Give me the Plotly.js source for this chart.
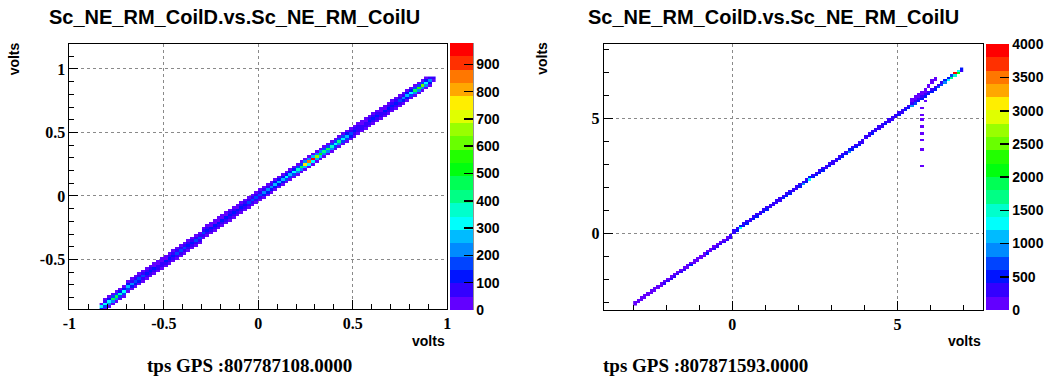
<!DOCTYPE html>
<html><head><meta charset="utf-8">
<script src="https://cdn.plot.ly/plotly-3.0.1.min.js"></script>
<style>html,body{margin:0;padding:0;background:#fff;}#chart{width:1053px;height:381px;}</style>
</head><body><div id="chart"></div>
<script>
// ---------------- DATA ----------------
const titleText = 'Sc_NE_RM_CoilD.vs.Sc_NE_RM_CoilU';
const axisTitle = 'volts';
const leftFooter = 'tps GPS :807787108.0000';
const rightFooter = 'tps GPS :807871593.0000';

// Left histogram (bin width 0.02 in x and y): filled columns
const leftBinW = 0.02, leftBinH = 0.02;
const leftColX = [-0.83,-0.81,-0.79,-0.77,-0.75,-0.73,-0.71,-0.69,-0.67,-0.65,-0.63,-0.61,-0.59,-0.57,-0.55,-0.53,-0.51,-0.49,-0.47,-0.45,-0.43,-0.41,-0.39,-0.37,-0.35,-0.33,-0.31,-0.29,-0.27,-0.25,-0.23,-0.21,-0.19,-0.17,-0.15,-0.13,-0.11,-0.09,-0.07,-0.05,-0.03,-0.01,0.01,0.03,0.05,0.07,0.09,0.11,0.13,0.15,0.17,0.19,0.21,0.23,0.25,0.27,0.29,0.31,0.33,0.35,0.37,0.39,0.41,0.43,0.45,0.47,0.49,0.51,0.53,0.55,0.57,0.59,0.61,0.63,0.65,0.67,0.69,0.71,0.73,0.75,0.77,0.79,0.81,0.83,0.85,0.87,0.89,0.91,0.93];
const leftColYLow = [-0.91,-0.89,-0.87,-0.85,-0.83,-0.81,-0.79,-0.75,-0.73,-0.71,-0.69,-0.67,-0.65,-0.63,-0.61,-0.59,-0.57,-0.55,-0.53,-0.51,-0.49,-0.47,-0.45,-0.43,-0.41,-0.39,-0.37,-0.33,-0.31,-0.29,-0.27,-0.25,-0.23,-0.21,-0.19,-0.17,-0.15,-0.13,-0.11,-0.09,-0.07,-0.05,-0.03,-0.01,0.01,0.03,0.05,0.07,0.09,0.11,0.13,0.15,0.17,0.19,0.21,0.23,0.25,0.27,0.29,0.31,0.33,0.35,0.37,0.39,0.41,0.43,0.45,0.47,0.49,0.51,0.53,0.55,0.57,0.59,0.61,0.63,0.65,0.67,0.69,0.71,0.73,0.75,0.77,0.79,0.81,0.83,0.85,0.87,0.89];
const leftColCounts = [
 [0,120,320,40,0],[20,180,330,80,10],[25,200,340,120,20],[30,220,450,150,20],[30,230,460,160,25],
 [25,190,370,130,20],[25,170,310,110,20],[20,150,280,100,15],[20,130,230,90,15],[15,110,190,80,10],
 [15,100,170,70,10],[15,90,160,60,10],[10,80,140,55,10],[10,70,120,50,8],[10,60,100,45,8],
 [8,55,90,40,5],[8,60,95,40,5],[10,60,110,45,6],[10,70,120,50,8],[10,70,130,50,8],
 [12,80,150,55,8],[12,90,170,60,10],[12,80,160,55,10],[10,75,140,50,8],[10,70,130,50,8],
 [10,80,150,55,8],[12,90,170,60,10],[10,80,150,55,8],[10,70,120,50,8],[8,60,110,45,6],
 [8,60,100,40,6],[8,55,100,40,6],[8,60,110,45,6],[10,65,120,45,8],[10,70,130,50,8],
 [10,70,120,50,8],[10,65,110,45,8],[10,70,120,50,8],[10,75,140,55,8],[12,80,150,60,10],
 [12,80,160,60,10],[12,85,170,65,10],[12,90,180,70,10],[15,100,200,80,12],[15,110,220,90,12],
 [15,120,230,90,12],[15,120,250,100,15],[15,130,260,100,15],[20,140,280,110,15],[20,150,300,120,15],
 [20,160,250,110,15],[20,170,320,130,20],[25,200,360,150,20],[25,230,460,170,25],[30,280,750,220,30],
 [30,300,850,240,30],[30,320,960,260,30],[30,280,650,220,30],[25,250,500,200,25],[25,220,420,180,25],
 [25,230,460,190,25],[25,200,360,160,20],[20,180,320,150,20],[25,200,400,170,20],[20,180,330,150,20],
 [20,150,250,120,15],[15,110,180,90,12],[12,80,130,70,10],[10,60,90,50,8],[10,55,80,45,8],
 [10,60,90,45,8],[10,60,100,50,8],[10,65,110,50,8],[10,60,100,50,8],[10,55,90,45,8],
 [10,60,100,45,8],[10,65,110,50,8],[10,70,120,55,8],[10,80,140,60,10],[12,90,160,70,10],
 [15,110,200,80,12],[15,130,260,100,15],[20,160,320,120,15],[20,200,460,150,20],[25,230,560,170,20],
 [25,240,620,180,20],[20,200,330,130,15],[15,130,200,80,0],[0,40,60,0,0]
];

// Right histogram (bin width 0.1 in x and y): filled columns along the diagonal
const rightBinW = 0.1, rightBinH = 0.1;
const rightColX = [-2.95,-2.85,-2.75,-2.65,-2.55,-2.45,-2.35,-2.25,-2.15,-2.05,-1.95,-1.85,-1.75,-1.65,-1.55,-1.45,-1.35,-1.25,-1.15,-1.05,-0.95,-0.85,-0.75,-0.65,-0.55,-0.45,-0.35,-0.25,-0.15,-0.05,
 0.05,0.15,0.25,0.35,0.45,0.55,0.65,0.75,0.85,0.95,1.05,1.15,1.25,1.35,1.45,1.55,1.65,1.75,1.85,1.95,2.05,2.15,2.25,2.35,2.45,2.55,2.65,2.75,2.85,2.95,3.05,3.15,3.25,3.35,3.45,3.55,3.65,3.75,3.85,3.95,
 4.05,4.15,4.25,4.35,4.45,4.55,4.65,4.75,4.85,4.95,5.05,5.15,5.25,5.35,5.45,5.55,5.65,5.75,5.85,5.95,6.05,6.15,6.25,6.35,6.45,6.55,6.65,6.75,6.85,6.95];
const rightColYLow = [-3.05,-2.95,-2.85,-2.75,-2.65,-2.55,-2.45,-2.35,-2.25,-2.15,-2.05,-1.95,-1.85,-1.75,-1.65,-1.55,-1.45,-1.35,-1.25,-1.15,-1.05,-0.95,-0.85,-0.75,-0.65,-0.55,-0.45,-0.35,-0.25,-0.15,
 0.05,0.15,0.25,0.35,0.45,0.55,0.65,0.75,0.85,0.95,1.05,1.15,1.25,1.35,1.45,1.55,1.65,1.75,1.85,1.95,2.05,2.15,2.25,2.35,2.45,2.55,2.65,2.75,2.85,2.95,3.05,3.15,3.25,3.35,3.45,3.55,3.65,3.75,3.85,3.95,
 4.15,4.25,4.35,4.45,4.55,4.65,4.75,4.85,4.95,5.05,5.15,5.25,5.35,5.45,5.55,5.65,5.75,5.85,5.95,6.05,6.15,6.25,6.35,6.45,6.55,6.65,6.75,6.85,6.95,7.05];
const rightColCounts = [
 [60,20],[90,40],[120,60],[150,80],[140,90],[160,100],[180,120],[170,110],[190,130],[220,140],
 [250,150],[230,160],[280,170],[260,150],[240,140],[210,130],[190,120],[450,110],[160,100],[180,120],
 [170,110],[190,130],[450,140],[180,130],[210,150],[230,160],[250,180],[260,190],[300,200],[350,250],
 [400,300],[450,350],[1250,500],[500,350],[520,380],[400,300],[550,350],[420,300],[380,260],[560,360],
 [420,300],[380,280],[350,250],[330,240],[400,280],[580,380],[420,300],[520,340],[400,280],[380,270],
 [450,300],[850,400],[500,330],[1250,450],[520,340],[420,300],[560,350],[420,290],[380,270],[540,340],
 [400,280],[360,260],[560,350],[420,300],[450,310],[950,420],[480,320],[420,300],[560,350],[400,290],
 [380,270],[360,260],[540,330],[400,280],[370,260],[350,250],[520,320],[380,270],[350,250],[330,240],
 [420,280],[400,270],[450,300],[600,350],[900,320],[650,380],[550,340],[480,300],[450,290],[420,280],
 [500,320],[560,340],[620,360],[700,400],[850,450],[1300,600],[1650,800],[1500,3900],[2100,1300],[300,500]
];
// Right histogram: isolated cells off the diagonal (loop and vertical trail)
const rightExtraX = [5.45,5.45,5.55,5.55,5.65,5.65,5.75,5.75,5.85,5.85,5.95,5.95,6.05,6.05,6.15,6.15,
 5.75,5.75,5.75,5.75,5.75,5.75,5.75,5.75,5.85];
const rightExtraY = [5.75,5.85,5.85,5.95,5.95,6.05,6.05,6.15,6.15,6.25,6.35,6.45,6.55,6.65,6.65,6.75,
 5.45,5.15,4.95,4.65,4.35,4.05,3.65,2.95,5.75];
const rightExtraZ = [80,60,90,70,60,80,50,60,40,60,50,40,40,50,40,50,
 30,20,15,15,10,10,10,10,20];

// Axis ticks
const leftXTicks = [-1,-0.5,0,0.5,1], leftXTickText = ['-1','-0.5','0','0.5','1'];
const leftYTicks = [-0.5,0,0.5,1], leftYTickText = ['-0.5','0','0.5','1'];
const rightXTicks = [0,5], rightXTickText = ['0','5'];
const rightYTicks = [0,5], rightYTickText = ['0','5'];
const leftZMax = 978, rightZMax = 4005;

// ---------------- BUILD ----------------
function buildHist(colX, colYLow, colCounts, dx, dy, exX, exY, exZ) {
  const cells = [];
  colX.forEach((x, i) => colCounts[i].forEach((c, k) => { if (c > 0) cells.push([x, colYLow[i] + k * dy, c]); }));
  (exX || []).forEach((x, i) => cells.push([x, exY[i], exZ[i]]));
  const xMin = Math.min(...cells.map(c => c[0])), xMax = Math.max(...cells.map(c => c[0]));
  const yMin = Math.min(...cells.map(c => c[1])), yMax = Math.max(...cells.map(c => c[1]));
  const nx = Math.round((xMax - xMin) / dx) + 1, ny = Math.round((yMax - yMin) / dy) + 1;
  const xs = Array.from({length: nx}, (_, i) => +(xMin + i * dx).toFixed(4));
  const ys = Array.from({length: ny}, (_, j) => +(yMin + j * dy).toFixed(4));
  const z = Array.from({length: ny}, () => Array(nx).fill(null));
  cells.forEach(([x, y, c]) => {
    const i = Math.round((x - xMin) / dx), j = Math.round((y - yMin) / dy);
    z[j][i] = (z[j][i] || 0) + c;
  });
  return {xs, ys, z};
}

const palette = ['rgb(99,0,255)','rgb(51,0,255)','rgb(0,20,255)','rgb(0,68,255)','rgb(0,139,255)','rgb(0,187,255)','rgb(0,255,252)','rgb(0,255,204)','rgb(0,255,133)','rgb(0,255,85)','rgb(0,255,14)','rgb(34,255,0)','rgb(105,255,0)','rgb(153,255,0)','rgb(224,255,0)','rgb(255,238,0)','rgb(255,167,0)','rgb(255,119,0)','rgb(255,48,0)','rgb(255,0,0)'];
const colorscale = [];
palette.forEach((c, i) => { colorscale.push([i / 20, c]); colorscale.push([(i + 1) / 20, c]); });

const L = buildHist(leftColX, leftColYLow, leftColCounts, leftBinW, leftBinH);
const R = buildHist(rightColX, rightColYLow, rightColCounts, rightBinW, rightBinH, rightExtraX, rightExtraY, rightExtraZ);

const W = 1053, H = 381;
const px = v => v / W, py = v => 1 - v / H;

const cbFont = {family: 'Liberation Sans, Arial, sans-serif', size: 14, color: '#000', weight: 700};
function colorbar(xLeft, yTop, lenPx, dtick) {
  return {x: px(xLeft), xanchor: 'left', xref: 'paper', y: py(yTop), yanchor: 'top', yref: 'paper',
    len: lenPx, lenmode: 'pixels', thickness: 23, thicknessmode: 'pixels', xpad: 0, ypad: 0,
    outlinewidth: 0, tickmode: 'linear', tick0: 0, dtick: dtick, ticks: 'inside', ticklen: 9,
    tickwidth: 1.5, tickcolor: '#000', tickfont: cbFont};
}

const traces = [
  {type: 'heatmap', x: L.xs, y: L.ys, z: L.z, xaxis: 'x', yaxis: 'y', zmin: 0, zmax: leftZMax,
   colorscale: colorscale, hoverongaps: false, colorbar: colorbar(454, 43, 267, 100)},
  {type: 'heatmap', x: R.xs, y: R.ys, z: R.z, xaxis: 'x2', yaxis: 'y2', zmin: 0, zmax: rightZMax,
   colorscale: colorscale, hoverongaps: false, colorbar: colorbar(994, 44, 266, 500)}
];

const tickFont = {family: 'Liberation Serif, Times New Roman, serif', size: 16, color: '#000', weight: 700};
function axis(domain, range, tv, tt, minorD, anchor) {
  return {domain: domain, range: range, anchor: anchor, tickmode: 'array', tickvals: tv, ticktext: tt,
    ticks: 'inside', ticklen: 9, tickwidth: 1, tickcolor: '#000',
    minor: {tick0: 0, dtick: minorD, ticks: 'inside', ticklen: 5, tickwidth: 1, tickcolor: '#000', showgrid: false},
    showgrid: true, gridcolor: '#8a8a8a', griddash: 'dot', gridwidth: 1, zeroline: false,
    showline: true, linecolor: '#000', linewidth: 1, mirror: true, tickfont: tickFont, fixedrange: true};
}

const annFont = {family: 'Liberation Sans, Arial, sans-serif', color: '#000', weight: 700};
function ann(text, x, y, opts) {
  return Object.assign({text: text, x: px(x), y: py(y), xref: 'paper', yref: 'paper', showarrow: false,
    xanchor: 'center', yanchor: 'middle', font: Object.assign({}, annFont, {size: 14})}, opts || {});
}

const layout = {
  width: W, height: H, margin: {l: 0, r: 0, t: 0, b: 0}, paper_bgcolor: '#fff', plot_bgcolor: '#fff',
  showlegend: false,
  xaxis: axis([px(70), px(451)], [-1, 1], leftXTicks, leftXTickText, 0.1, 'y'),
  yaxis: axis([py(309), py(43.5)], [-0.89, 1.2], leftYTicks, leftYTickText, 0.1, 'x'),
  xaxis2: axis([px(609), px(991)], [-3.89, 7.57], rightXTicks, rightXTickText, 1, 'y2'),
  yaxis2: axis([py(310), py(44)], [-3.31, 8.22], rightYTicks, rightYTickText, 1, 'x2'),
  shapes: [
    {type: 'line', xref: 'paper', yref: 'paper', x0: px(477), x1: px(477), y0: py(43), y1: py(310), line: {color: '#000', width: 1}},
    {type: 'line', xref: 'paper', yref: 'paper', x0: px(1017), x1: px(1017), y0: py(44), y1: py(310), line: {color: '#000', width: 1}}
  ],
  annotations: [
    ann(titleText, 236.5, 17, {font: Object.assign({}, annFont, {size: 20})}),
    ann(titleText, 780, 17, {font: Object.assign({}, annFont, {size: 20})}),
    ann(axisTitle, 15, 58.5, {textangle: -90}),
    ann(axisTitle, 547, 58.5, {textangle: -90}),
    ann(axisTitle, 451, 341, {xanchor: 'right'}),
    ann(axisTitle, 991, 341, {xanchor: 'right'}),
    ann(leftFooter, 251.5, 365, {font: {family: 'Liberation Serif, Times New Roman, serif', size: 19, color: '#000', weight: 700}}),
    ann(rightFooter, 712, 365, {font: {family: 'Liberation Serif, Times New Roman, serif', size: 19, color: '#000', weight: 700}})
  ]
};

Plotly.newPlot('chart', traces, layout, {displayModeBar: false, staticPlot: true});
</script></body></html>
